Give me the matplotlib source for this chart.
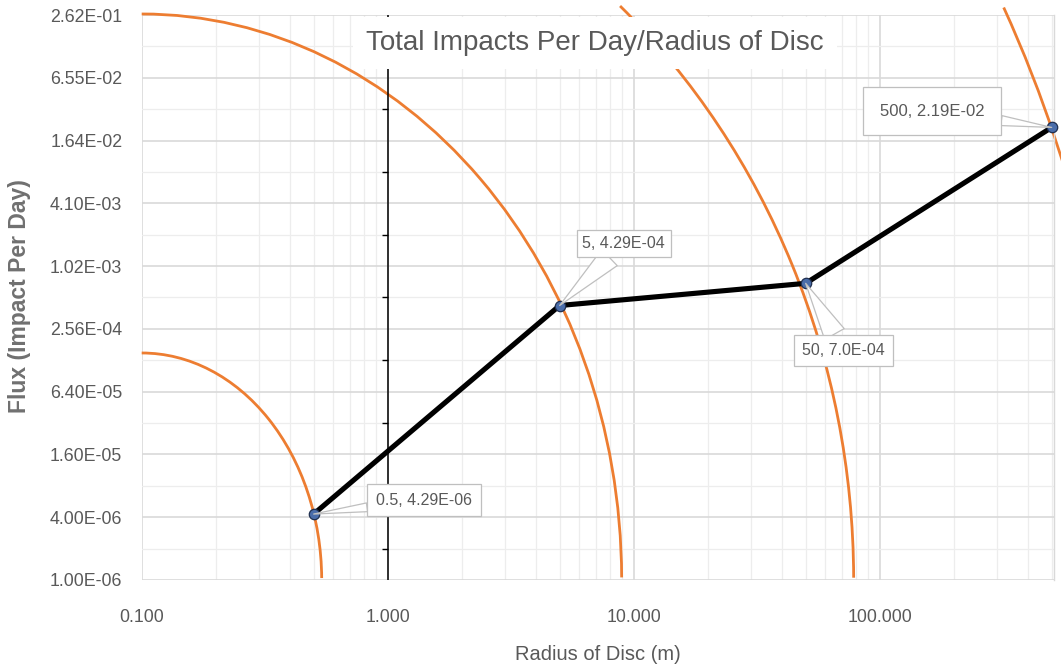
import numpy as np
import matplotlib
matplotlib.use("Agg")
import matplotlib.pyplot as plt
from matplotlib.patches import Arc
from matplotlib.ticker import FixedLocator, FixedFormatter, NullFormatter

# ---- data -------------------------------------------------------------
radius_m = [0.5, 5, 50, 500]
flux_per_day = [4.29e-06, 4.29e-04, 7.0e-04, 2.19e-02]
point_labels = ["0.5, 4.29E-06", "5, 4.29E-04", "50, 7.0E-04", "500, 2.19E-02"]

x_major = [0.1, 1, 10, 100]
x_tick_labels = ["0.100", "1.000", "10.000", "100.000"]
y_major = [1.0e-06, 4.0e-06, 1.6e-05, 6.4e-05, 2.56e-04,
           1.024e-03, 4.096e-03, 1.6384e-02, 6.5536e-02, 2.62144e-01]
y_tick_labels = ["1.00E-06", "4.00E-06", "1.60E-05", "6.40E-05", "2.56E-04",
                 "1.02E-03", "4.10E-03", "1.64E-02", "6.55E-02", "2.62E-01"]

# ---- styling ----------------------------------------------------------
TEXT_GREY = "#595959"
FONT = ["Liberation Sans", "DejaVu Sans"]

W_PX, H_PX = 1061, 671
fig = plt.figure(figsize=(W_PX / 100, H_PX / 100), dpi=100)
fig.patch.set_facecolor("white")

ax_l, ax_r, ax_t, ax_b = 141.7, 1054.0, 15.0, 580.0
ax = fig.add_axes([ax_l / W_PX, 1 - ax_b / H_PX, (ax_r - ax_l) / W_PX, (ax_b - ax_t) / H_PX])
ax.set_xscale("log")
ax.set_yscale("log", base=4)
ax.set_xlim(0.1, 511)
ax.set_ylim(y_major[0], y_major[-1])

x_minor = [m * d for d in x_major for m in range(2, 10) if m * d <= 511]
y_minor = [2 * v for v in y_major[:-1]]

ax.xaxis.set_major_locator(FixedLocator(x_major))
ax.xaxis.set_major_formatter(FixedFormatter(x_tick_labels))
ax.xaxis.set_minor_locator(FixedLocator(x_minor))
ax.xaxis.set_minor_formatter(NullFormatter())
ax.yaxis.set_major_locator(FixedLocator(y_major))
ax.yaxis.set_major_formatter(FixedFormatter(y_tick_labels))
ax.yaxis.set_minor_locator(FixedLocator(y_minor))
ax.yaxis.set_minor_formatter(NullFormatter())

ax.tick_params(which="both", length=0)
ax.tick_params(axis="y", pad=14)
ax.tick_params(axis="x", pad=21)
for lab in ax.get_xticklabels() + ax.get_yticklabels():
    lab.set_family(FONT)
    lab.set_fontsize(12.8)
    lab.set_color(TEXT_GREY)

ax.set_axisbelow(True)
ax.grid(which="major", color="#D9D9D9", lw=1.2)
ax.grid(which="minor", color="#EDEDED", lw=0.9)
for side in ("top", "left", "bottom"):
    ax.spines[side].set_visible(False)
ax.spines["right"].set_color("#D9D9D9")
ax.spines["right"].set_linewidth(1.0)

# vertical axis crossing at x = 1 with its minor tick marks
ax.axvline(1.0, color="black", lw=1.1, zorder=2.5)
ax.plot([1.0] * len(y_minor), y_minor, ls="none", marker=0, ms=4, mew=1.0,
        color="black", zorder=2.5)

# disc outlines (quarter ellipses anchored at the lower-left corner, axes fractions)
disc_arcs = [
    # (half-width, half-height, start deg, end deg)
    (0.1973, 0.4018, 1.0, 90.0),
    (0.5261, 1.0018, 0.5, 90.0),
    (0.7804, 1.3717, 0.3, 62.7),
    (1.0786, 2.1009, 0.0, 47.0),
]
for rx, ry, t1, t2 in disc_arcs:
    ax.add_patch(Arc((0, 0), 2 * rx, 2 * ry, theta1=t1, theta2=t2,
                     transform=ax.transAxes, color="#ED7D31", lw=2.0,
                     clip_on=False, zorder=2.2))

# series
ax.plot(radius_m, flux_per_day, color="black", lw=3.7, solid_capstyle="round",
        marker="o", ms=7.5, mfc="#4A6DAA", mec="#1F2F4F", mew=0.9,
        zorder=4, clip_on=False)

# callout labels: (text offset px, box pad, pointer width, font size)
label_style = [
    ((110.6, 14.0), 0.55, 0.55, 11.5),
    ((64.2, 61.8), 0.37, 1.4, 11.5),
    ((37.8, -66.7), 0.5, 1.4, 11.5),
    ((-119.7, 16.2), 1.0, 0.6, 12.0),
]
for x, y, text, (off, pad, tw, fs) in zip(radius_m, flux_per_day, point_labels, label_style):
    ax.annotate(text, xy=(x, y), xytext=off, textcoords="offset pixels",
                ha="center", va="center", fontsize=fs, family=FONT,
                color=TEXT_GREY, zorder=6, annotation_clip=False,
                bbox=dict(boxstyle=f"square,pad={pad}", fc="white",
                          ec="#BFBFBF", lw=0.9),
                arrowprops=dict(arrowstyle=f"wedge,tail_width={tw},shrink_factor=0.5",
                                fc="white", ec="#BFBFBF", lw=0.9,
                                shrinkA=0, shrinkB=0))

# title over the plot area
fig.text(595 / W_PX, 1 - 43 / H_PX, "Total Impacts Per Day/Radius of Disc",
         ha="center", va="center", fontsize=20, family=FONT, color=TEXT_GREY,
         zorder=10, bbox=dict(boxstyle="square,pad=0.48", fc="white", ec="none"))

fig.text(598 / W_PX, 1 - 655 / H_PX, "Radius of Disc (m)", ha="center", va="center",
         fontsize=14.5, family=FONT, color=TEXT_GREY)
fig.text(20 / W_PX, 1 - 296 / H_PX, "Flux (Impact Per Day)", ha="center", va="center",
         rotation=90, fontsize=16.5, family=FONT, weight="bold", color="#707070")

fig.savefig("out.png", dpi=100, facecolor="white")
